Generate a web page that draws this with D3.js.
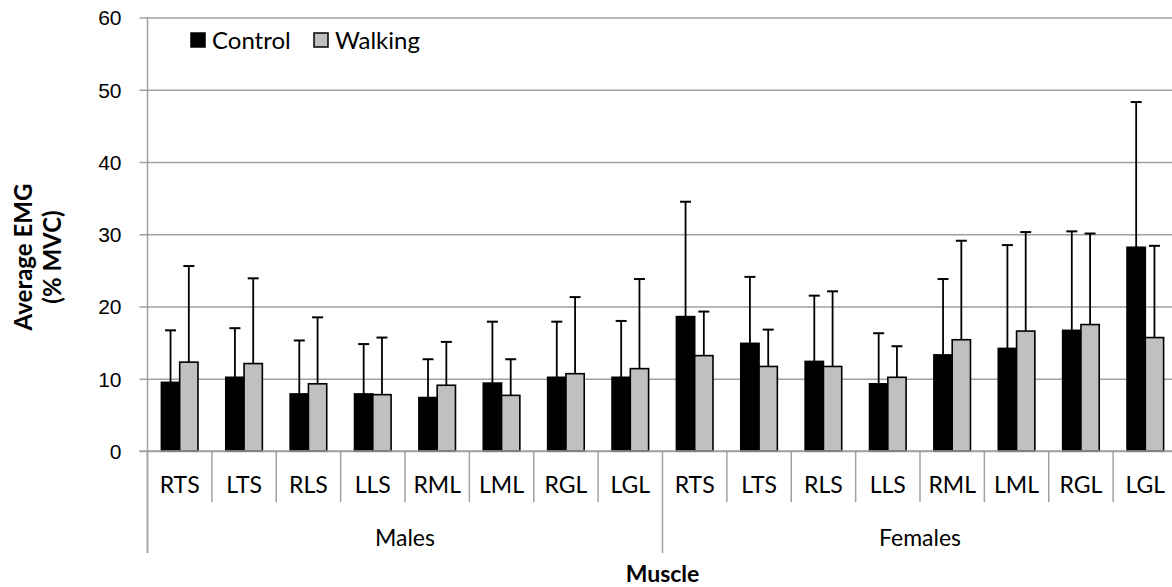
<!DOCTYPE html>
<html>
<head>
<meta charset="utf-8">
<script src="https://cdn.jsdelivr.net/npm/d3@7"></script>
<style>
  html, body { margin: 0; padding: 0; background: #fff; overflow: hidden; }
  svg { display: block; font-family: Lato, "Open Sans", sans-serif; }
</style>
</head>
<body>
<svg id="chart" width="1172" height="587"></svg>
<script>
const groups = ["Males", "Females"];
const muscles = ["RTS", "LTS", "RLS", "LLS", "RML", "LML", "RGL", "LGL"];
const seriesNames = ["Control", "Walking"];
const controlMean = [9.5, 10.2, 7.9, 7.9, 7.4, 9.4, 10.2, 10.2, 18.6, 14.9, 12.4, 9.3, 13.3, 14.2, 16.7, 28.2];
const controlSD   = [7.2, 6.8, 7.4, 6.9, 5.3, 8.5, 7.7, 7.8, 15.9, 9.2, 9.1, 7.0, 10.5, 14.3, 13.7, 20.1];
const walkingMean = [12.3, 12.1, 9.3, 7.8, 9.1, 7.7, 10.7, 11.4, 13.2, 11.7, 11.7, 10.2, 15.4, 16.6, 17.5, 15.7];
const walkingSD   = [13.3, 11.8, 9.2, 7.9, 6.0, 5.0, 10.6, 12.4, 6.1, 5.1, 10.4, 4.3, 13.7, 13.7, 12.6, 12.7];
const yTicks = [0, 10, 20, 30, 40, 50, 60];
const yTitle = ["Average EMG", "(% MVC)"];
const xTitle = "Muscle";

const svg = d3.select("#chart");
const pLeft = 147.5, pRight = 1177.5, pTop = 17.5, pBottom = 451;
const gridColor = "#a0a0a0";

const cats = [];
groups.forEach(g => muscles.forEach(m => cats.push({ group: g, muscle: m, key: g + "-" + m })));
const rows = cats.map((c, i) => ({
  ...c,
  values: [
    { name: seriesNames[0], mean: controlMean[i], sd: controlSD[i] },
    { name: seriesNames[1], mean: walkingMean[i], sd: walkingSD[i] }
  ]
}));

const x = d3.scaleBand().domain(cats.map(c => c.key)).range([pLeft, pRight]).paddingInner(0).paddingOuter(0);
const xs = d3.scaleBand().domain(seriesNames).range([0, x.bandwidth()]).paddingInner(0).paddingOuter(0.76);
const y = d3.scaleLinear().domain([0, 60]).range([pBottom, pTop]);
const fill = d3.scaleOrdinal().domain(seriesNames).range(["#000000", "#c0c0c0"]);

// gridlines + ticks
const yAxis = d3.axisLeft(y).tickValues(yTicks).tickSize(-(pRight - pLeft)).tickSizeOuter(0).tickPadding(0).tickFormat(d3.format("d"));
const gy = svg.append("g").attr("transform", `translate(${pLeft},0)`).call(yAxis);
gy.select(".domain").remove();
gy.selectAll(".tick line").attr("stroke", gridColor).attr("stroke-width", 1.5).attr("x1", -8);
gy.selectAll(".tick text").attr("x", -26).attr("font-size", 21).attr("fill", "#000").attr("text-anchor", "end").attr("dy", "0.35em");

// left axis line (extends down to bottom of group axis)
svg.append("line").attr("x1", pLeft).attr("x2", pLeft).attr("y1", pTop).attr("y2", 553)
  .attr("stroke", gridColor).attr("stroke-width", 1.5);

// bars
const cg = svg.append("g").selectAll("g").data(rows).join("g")
  .attr("transform", d => `translate(${x(d.key)},0)`);
cg.selectAll("rect").data(d => d.values).join("rect")
  .attr("x", d => xs(d.name))
  .attr("y", d => y(d.mean))
  .attr("width", xs.bandwidth())
  .attr("height", d => y(0) - y(d.mean))
  .attr("fill", d => fill(d.name))
  .attr("stroke", "#000").attr("stroke-width", 1.6);

// error bars (upper only)
const eg = cg.selectAll("g.err").data(d => d.values).join("g").attr("class", "err");
eg.append("line")
  .attr("x1", d => xs(d.name) + xs.bandwidth() / 2)
  .attr("x2", d => xs(d.name) + xs.bandwidth() / 2)
  .attr("y1", d => y(d.mean))
  .attr("y2", d => y(d.mean + d.sd))
  .attr("stroke", "#000").attr("stroke-width", 1.8);
eg.append("line")
  .attr("x1", d => xs(d.name) + xs.bandwidth() / 2 - 5.5)
  .attr("x2", d => xs(d.name) + xs.bandwidth() / 2 + 5.5)
  .attr("y1", d => y(d.mean + d.sd))
  .attr("y2", d => y(d.mean + d.sd))
  .attr("stroke", "#000").attr("stroke-width", 2);

// baseline axis
svg.append("line").attr("x1", pLeft - 8).attr("x2", pRight).attr("y1", pBottom).attr("y2", pBottom)
  .attr("stroke", gridColor).attr("stroke-width", 1.5);

// category separators
cats.forEach(c => {
  const x0 = x(c.key);
  const isGroupStart = muscles.indexOf(c.muscle) === 0;
  svg.append("line").attr("x1", x0).attr("x2", x0).attr("y1", pBottom).attr("y2", isGroupStart ? 553 : 502)
    .attr("stroke", gridColor).attr("stroke-width", 1.5);
});
svg.append("line").attr("x1", pRight).attr("x2", pRight).attr("y1", pBottom).attr("y2", 553)
  .attr("stroke", gridColor).attr("stroke-width", 1.5);

svg.append("g").selectAll("text").data(cats).join("text")
  .attr("x", d => x(d.key) + x.bandwidth() / 2)
  .attr("y", 493)
  .attr("text-anchor", "middle").attr("font-size", 23).attr("fill", "#000")
  .text(d => d.muscle);

svg.append("g").selectAll("text").data(groups).join("text")
  .attr("x", g => (x(g + "-" + muscles[0]) + x(g + "-" + muscles[muscles.length - 1]) + x.bandwidth()) / 2)
  .attr("y", 546)
  .attr("text-anchor", "middle").attr("font-size", 23).attr("fill", "#000")
  .text(g => g);

svg.append("text").attr("x", (pLeft + pRight) / 2).attr("y", 582)
  .attr("text-anchor", "middle").attr("font-size", 23).attr("font-weight", "bold").text(xTitle);

// y title
const yt = svg.append("text").attr("transform", "translate(32,257) rotate(-90)")
  .attr("text-anchor", "middle").attr("font-size", 24).attr("font-weight", "bold");
yt.append("tspan").attr("x", 0).attr("dy", 0).text(yTitle[0]);
yt.append("tspan").attr("x", 0).attr("dy", 29).text(yTitle[1]);

// legend
const legendX = [191, 314];
seriesNames.forEach((s, i) => {
  svg.append("rect").attr("x", legendX[i]).attr("y", 33).attr("width", 14).attr("height", 14)
    .attr("fill", fill(s)).attr("stroke", "#000").attr("stroke-width", 1.5);
  svg.append("text").attr("x", legendX[i] + 21).attr("y", 48.5).attr("font-size", 24).attr("fill", "#000").text(s);
});
</script>
</body>
</html>
